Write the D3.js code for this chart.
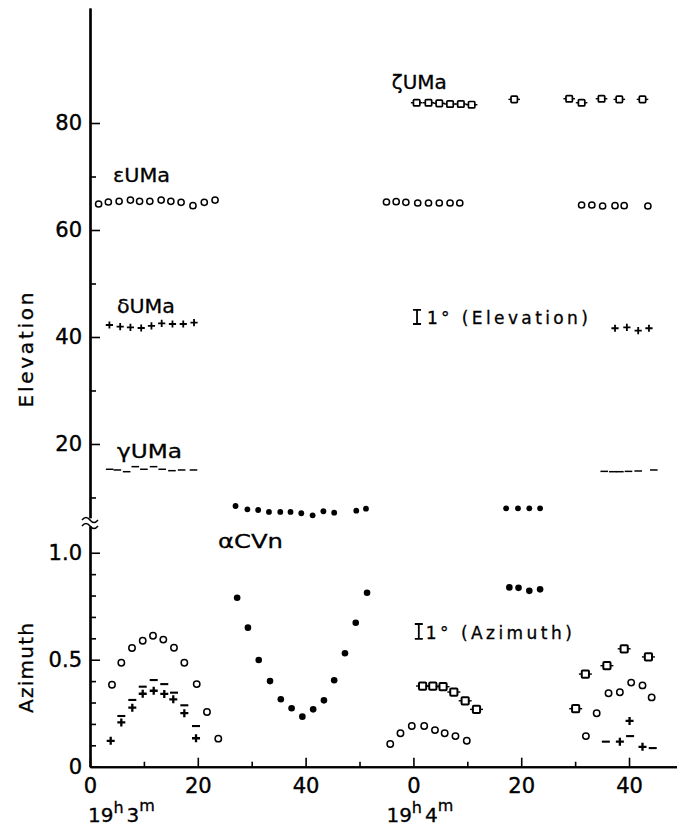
<!DOCTYPE html>
<html><head><meta charset="utf-8">
<script src="https://cdn.jsdelivr.net/npm/d3@7"></script>
<style>
body{margin:0;background:#fff}
svg{display:block}
text{font-family:"DejaVu Sans",sans-serif;fill:#000}
</style>
</head><body>
<svg id="c" width="677" height="837"></svg>
<script>
// time in seconds after 19h 3m 0s
// ---- Elevation panel (degrees) ----
const epsUMaElevT = [1.6,3.4,5.4,7.5,9.2,11.1,13.2,15.0,16.9,19.1,21.2,23.2, 55.0,56.8,58.6,60.8,62.8,64.8,66.8,68.6, 91.2,93.1,95.1,97.4,99.1,103.5];
const epsUMaElevV = [64.86,65.23,65.36,65.6,65.36,65.36,65.6,65.36,65.18,64.54,65.18,65.6, 65.23,65.29,65.18,65.05,65.05,65.05,65.05,65.05, 64.67,64.67,64.49,64.54,64.54,64.49];
const deltaUMaElevT = [3.6,5.6,7.5,9.5,11.4,13.3,15.3,17.3,19.3, 97.4,99.6,101.7,103.7];
const deltaUMaElevV = [42.24,41.93,41.81,41.68,42.06,42.56,42.43,42.43,42.67, 41.63,41.81,41.18,41.63];
const gammaUMaElevT = [3.65,5.07,6.8,8.4,10.0,11.8,13.4,15.2,17.0,19.2, 95.4,97.0,98.3,99.9,101.7,104.6];
const gammaUMaElevV = [15.27,15.14,14.82,15.76,15.27,15.76,15.27,15.01,15.14,15.14, 14.88,14.82,14.82,14.88,14.95,15.14];
const alphaCVnElevT = [27.0,29.2,31.2,33.2,35.3,37.2,39.2,41.3,43.3,45.3,49.4,51.2, 77.2,79.4,81.5,83.5];
const alphaCVnElevV = [8.41,7.79,7.66,7.29,7.29,7.29,7.05,6.67,7.42,7.16,7.53,7.91, 7.98,7.98,7.98,7.98];
const zetaUMaElevT = [60.6,62.8,64.8,66.8,68.8,70.8,78.7,88.9,91.2,94.9,98.2,102.5];
const zetaUMaElevV = [83.79,83.79,83.68,83.55,83.55,83.42,84.42,84.54,83.79,84.54,84.42,84.42];
// ---- Azimuth panel ----
const epsUMaAzT = [4.08,5.81,7.79,9.78,11.69,13.6,15.58,17.5,19.8,21.7,23.8, 55.7,57.6,59.7,62.0,64.0,65.8,67.8,69.9, 92.0,94.0,96.2,98.3,100.4,102.5,104.2];
const epsUMaAzV = [0.383,0.486,0.555,0.589,0.612,0.594,0.556,0.486,0.386,0.256,0.131, 0.106,0.156,0.190,0.190,0.171,0.156,0.143,0.121, 0.143,0.250,0.343,0.348,0.393,0.380,0.324];
const deltaUMaAzT = [3.84,5.81,7.85,9.78,11.82,13.78,15.45,17.5,19.67, 98.3,100.1,102.5];
const deltaUMaAzV = [0.121,0.207,0.276,0.341,0.355,0.340,0.315,0.250,0.133, 0.117,0.214,0.093];
const gammaUMaAzT = [5.81,7.85,9.78,11.82,13.78,15.58,17.5,19.67, 95.7,100.2,104.4];
const gammaUMaAzV = [0.237,0.312,0.374,0.405,0.386,0.346,0.287,0.190, 0.117,0.143,0.087];
const alphaCVnAzT = [27.3,29.3,31.3,33.4,35.4,37.4,39.4,41.4,43.4,45.3,47.3,49.3,51.4, 77.8,79.5,81.5,83.5];
const alphaCVnAzV = [0.790,0.650,0.499,0.400,0.315,0.273,0.234,0.268,0.310,0.404,0.530,0.673,0.813, 0.838,0.836,0.822,0.829];
const zetaUMaAzT = [61.7,63.6,65.5,67.5,69.6,71.7, 90.1,91.9,95.9,99.1,103.6];
const zetaUMaAzV = [0.377,0.377,0.374,0.349,0.308,0.268, 0.271,0.433,0.472,0.551,0.513];
// ---- ticks ----
const xMajorTicks = [0,20,40,60,80,100];
const xMajorLabels = ["0","20","40","0","20","40"];
const xMinorTicks = [10,30,50,70,90];
const elevMajorTicks = [20,40,60,80];
const elevMinorTicks = [10,30,50,70];
const azMajorTicks = [0,0.5,1.0];
const azMajorLabels = ["0","0.5","1.0"];
const azMinorTicks = [0.1,0.2,0.3,0.4,0.6,0.7,0.8,0.9];

const svg = d3.select("#c");
svg.append("rect").attr("width",677).attr("height",837).attr("fill","#fff");

const x = d3.scaleLinear().domain([0,108.9]).range([90,677]);
const yE = d3.scaleLinear().domain([6.2,101.5]).range([517.8,8]);
const yA = d3.scaleLinear().domain([0,1.125]).range([766.7,526]);

function styleAxis(g, sw){
  g.select(".domain").attr("stroke","#000").attr("stroke-width",sw);
  g.selectAll(".tick line").attr("stroke","#000").attr("stroke-width",1.6);
  g.selectAll(".tick text").attr("font-size",21).attr("font-family","DejaVu Sans")
    .attr("stroke","#000").attr("stroke-width",0.4);
}
// x axis
const gx = svg.append("g").attr("transform","translate(0,766.7)")
  .call(d3.axisBottom(x).tickValues(xMajorTicks).tickSize(-9).tickSizeOuter(0)
    .tickPadding(11).tickFormat((d,i)=>xMajorLabels[i]));
styleAxis(gx,2);
const gx2 = svg.append("g").attr("transform","translate(0,766.7)")
  .call(d3.axisBottom(x).tickValues(xMinorTicks).tickSize(-5).tickSizeOuter(0).tickFormat(""));
styleAxis(gx2,2);
// elevation axis
const gE = svg.append("g").attr("transform","translate(90,0)")
  .call(d3.axisLeft(yE).tickValues(elevMajorTicks).tickSize(-10).tickSizeOuter(0).tickPadding(8));
styleAxis(gE,2.2);
const gE2 = svg.append("g").attr("transform","translate(90,0)")
  .call(d3.axisLeft(yE).tickValues(elevMinorTicks).tickSize(-6).tickSizeOuter(0).tickFormat(""));
styleAxis(gE2,2.2);
// azimuth axis
const gA = svg.append("g").attr("transform","translate(90,0)")
  .call(d3.axisLeft(yA).tickValues(azMajorTicks).tickSize(-10).tickSizeOuter(0).tickPadding(8)
    .tickFormat((d,i)=>azMajorLabels[i]));
styleAxis(gA,2.2);
const gA2 = svg.append("g").attr("transform","translate(90,0)")
  .call(d3.axisLeft(yA).tickValues(azMinorTicks).tickSize(-6).tickSizeOuter(0).tickFormat(""));
styleAxis(gA2,2.2);

// axis break symbol
const brk = svg.append("g").attr("fill","none").attr("stroke","#000").attr("stroke-width",1.5);
[519,525].forEach(yy=>{
  brk.append("path").attr("d",`M82,${yy+1} q4,-5 8,0 t8,0`);
});

// ---- markers ----
const zip = (T,V)=>T.map((t,i)=>[t,V[i]]);
function openCircles(T,V,ys,r){
  svg.append("g").selectAll("circle").data(zip(T,V)).join("circle")
    .attr("cx",d=>x(d[0])).attr("cy",d=>ys(d[1])).attr("r",r)
    .attr("fill","#fff").attr("stroke","#000").attr("stroke-width",1.5);
}
function dots(T,V,ys,r){
  svg.append("g").selectAll("circle").data(zip(T,V)).join("circle")
    .attr("cx",d=>x(d[0])).attr("cy",d=>ys(d[1])).attr("r",r).attr("fill","#000");
}
function pluses(T,V,ys,s,sw){
  svg.append("g").selectAll("path").data(zip(T,V)).join("path")
    .attr("d",d=>{const cx=x(d[0]),cy=ys(d[1]);return `M${cx-s},${cy}H${cx+s}M${cx},${cy-s}V${cy+s}`;})
    .attr("stroke","#000").attr("stroke-width",sw).attr("fill","none");
}
function dashes(T,V,ys,s,sw){
  svg.append("g").selectAll("path").data(zip(T,V)).join("path")
    .attr("d",d=>{const cx=x(d[0]),cy=ys(d[1]);return `M${cx-s},${cy}H${cx+s}`;})
    .attr("stroke","#000").attr("stroke-width",sw).attr("fill","none");
}
function squares(T,V,ys,s,w,sw){
  const g = svg.append("g");
  g.selectAll("path").data(zip(T,V)).join("path")
    .attr("d",d=>{const cx=x(d[0]),cy=ys(d[1]);return `M${cx-w},${cy}H${cx+w}`;})
    .attr("stroke","#000").attr("stroke-width",1.4);
  g.selectAll("rect").data(zip(T,V)).join("rect")
    .attr("x",d=>x(d[0])-s).attr("y",d=>ys(d[1])-s).attr("width",2*s).attr("height",2*s).attr("rx",1)
    .attr("fill","#fff").attr("stroke","#000").attr("stroke-width",sw);
}

// elevation
openCircles(epsUMaElevT,epsUMaElevV,yE,3.1);
pluses(deltaUMaElevT,deltaUMaElevV,yE,3.6,1.8);
dashes(gammaUMaElevT,gammaUMaElevV,yE,3.8,1.5);
dots(alphaCVnElevT,alphaCVnElevV,yE,2.9);
squares(zetaUMaElevT,zetaUMaElevV,yE,3.2,5.8,1.7);
// azimuth
openCircles(epsUMaAzT,epsUMaAzV,yA,3.2);
pluses(deltaUMaAzT,deltaUMaAzV,yA,4,2.3);
dashes(gammaUMaAzT,gammaUMaAzV,yA,4,2.1);
dots(alphaCVnAzT,alphaCVnAzV,yA,3.3);
squares(zetaUMaAzT,zetaUMaAzV,yA,3.6,6.5,2);

// ---- labels ----
function label(txt,px,py,fs,len){
  const t = svg.append("text").attr("x",px).attr("y",py).attr("font-size",fs)
    .attr("stroke","#000").attr("stroke-width",0.3).text(txt);
  if(len) t.attr("textLength",len).attr("lengthAdjust","spacingAndGlyphs");
  return t;
}
label("εUMa", x(4.27), yE(68.97), 19, 57);
label("ζUMa", x(56.0), yE(86.36), 19, 55);
label("δUMa", x(5.0), yE(44.49), 19, 58);
label("γUMa", x(5.0), yE(17.38), 19, 65);
label("αCVn", x(23.75), yA(1.022), 20, 65);

// scale bars
function scaleBar(px,y0,y1){
  svg.append("path").attr("d",`M${px},${y0}V${y1}M${px-4},${y0}H${px+4}M${px-4},${y1}H${px+4}`)
    .attr("stroke","#000").attr("stroke-width",1.8).attr("fill","none");
}
scaleBar(x(60.67), yE(45.05), yE(42.43));
label("1° (Elevation)", x(62.5), yE(42.43), 17, 161).attr("lengthAdjust","spacing");
scaleBar(x(61.0), yA(0.667), yA(0.597));
label("1° (Azimuth)", x(62.3), yA(0.597), 17, 146).attr("lengthAdjust","spacing");

// axis titles
svg.append("text").attr("transform","translate(33,350) rotate(-90)").attr("text-anchor","middle")
  .attr("font-size",20).attr("stroke","#000").attr("stroke-width",0.3)
  .attr("textLength",115).attr("lengthAdjust","spacing").text("Elevation");
svg.append("text").attr("transform","translate(33,668) rotate(-90)").attr("text-anchor","middle")
  .attr("font-size",20).attr("stroke","#000").attr("stroke-width",0.3)
  .attr("textLength",90).attr("lengthAdjust","spacing").text("Azimuth");

// time labels under the axis
function timeLabel(px, min){
  const t = svg.append("text").attr("x",px).attr("y",822).attr("font-size",20)
    .attr("stroke","#000").attr("stroke-width",0.3);
  t.append("tspan").text("19");
  t.append("tspan").attr("font-size",16).attr("dy",-9).text("h");
  t.append("tspan").attr("dy",9).attr("dx",3).text(min);
  t.append("tspan").attr("font-size",16).attr("dy",-11).text("m");
}
timeLabel(x(0)-2, "3");
timeLabel(x(60)-27, "4");
</script>
</body></html>
